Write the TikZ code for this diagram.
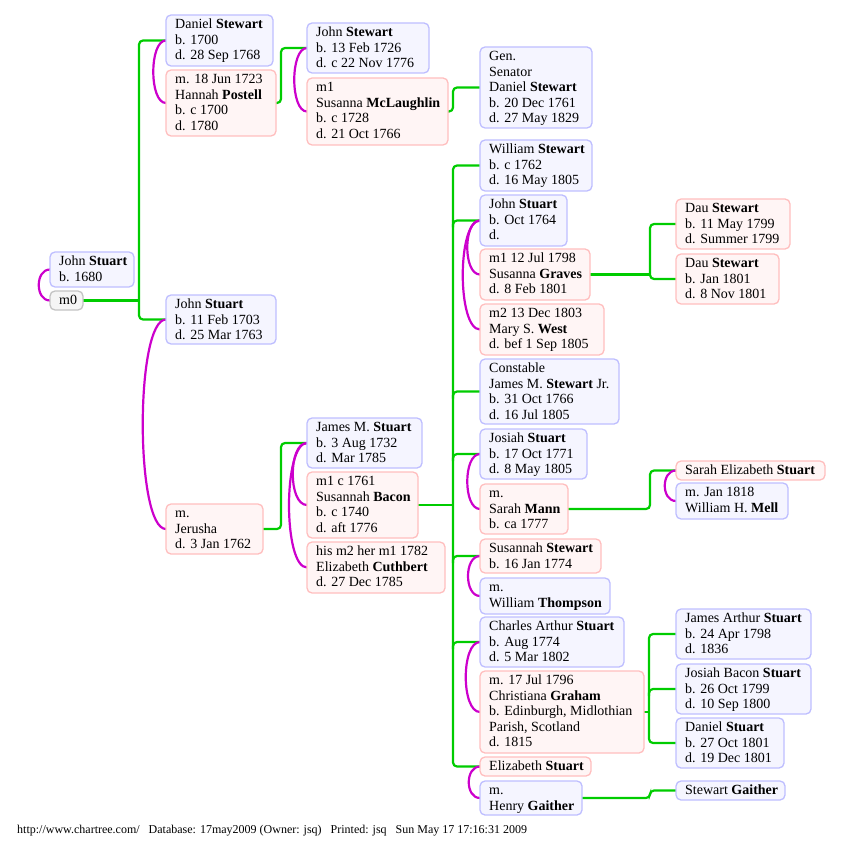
\documentclass[tikz,border=0pt]{standalone}
\usepackage{fontspec}
\setmainfont{Liberation Serif}
\usetikzlibrary{backgrounds}
\definecolor{grn}{RGB}{0,204,0}
\definecolor{mag}{RGB}{204,0,204}
\definecolor{bbord}{RGB}{190,190,255}
\definecolor{bfill}{RGB}{245,245,255}
\definecolor{pbord}{RGB}{255,190,190}
\definecolor{pfill}{RGB}{255,245,245}
\definecolor{gbord}{RGB}{195,195,195}
\definecolor{gfill}{RGB}{245,245,245}
\newcommand\pbx[7]{%
 \pgfmathsetmacro\pbxw{#5-#3}%
 \pgfmathsetmacro\pbxh{#6-#4}%
 \node[#1, anchor=north west, minimum width=\pbxw pt, minimum height=\pbxh pt] (#2) at (#3,#4) {};
 \node[txt, anchor=north west] (#2t) at (#3+9,#4+3.5) {\rule{0pt}{10pt}#7};%
}
\begin{document}
\begin{tikzpicture}[x=1pt,y=-1pt,
  bx/.style={draw=bbord, fill=bfill, line width=1.3pt, rounded corners=5pt, inner sep=0pt, outer sep=0pt},
  px/.style={bx, draw=pbord, fill=pfill},
  gx/.style={bx, draw=gbord, fill=gfill},
  txt/.style={align=left, inner sep=0pt, font=\fontsize{14}{15.5}\selectfont},
  gl/.style={draw=grn, line width=2.2pt, rounded corners=4pt},
  ml/.style={draw=mag, line width=2.2pt}]
\useasboundingbox (0,0) rectangle (843,858);

\pbx{bx}{js1680}{50}{252}{134}{287}{John \textbf{Stuart}\\b. 1680}
\pbx{gx}{m0}{50}{291}{83}{310}{m0}
\pbx{bx}{dstew}{166}{15}{273}{66}{Daniel \textbf{Stewart}\\b. 1700\\d. 28 Sep 1768}
\pbx{px}{hannah}{166}{70}{276}{136}{m. 18 Jun 1723\\Hannah \textbf{Postell}\\b. c 1700\\d. 1780}
\pbx{bx}{js1703}{166}{295}{276}{344}{John \textbf{Stuart}\\b. 11 Feb 1703\\d. 25 Mar 1763}
\pbx{px}{jerusha}{166}{504}{263}{554}{m.\\Jerusha\\d. 3 Jan 1762}
\pbx{bx}{jstew}{307}{23}{429}{73}{John \textbf{Stewart}\\b. 13 Feb 1726\\d. c 22 Nov 1776}
\pbx{px}{susmcl}{307}{78}{448}{145}{m1\\Susanna \textbf{McLaughlin}\\b. c 1728\\d. 21 Oct 1766}
\pbx{bx}{jamesm}{307}{418}{422}{468}{James M. \textbf{Stuart}\\b. 3 Aug 1732\\d. Mar 1785}
\pbx{px}{bacon}{307}{472}{418}{538}{m1 c 1761\\Susannah \textbf{Bacon}\\b. c 1740\\d. aft 1776}
\pbx{px}{cuthbert}{307}{542}{445}{593}{his m2 her m1 1782\\Elizabeth \textbf{Cuthbert}\\d. 27 Dec 1785}
\pbx{bx}{gen}{480}{47}{592}{128}{Gen.\\Senator\\Daniel \textbf{Stewart}\\b. 20 Dec 1761\\d. 27 May 1829}
\pbx{bx}{william}{480}{140}{592}{191}{William \textbf{Stewart}\\b. c 1762\\d. 16 May 1805}
\pbx{bx}{js1764}{480}{195}{567}{246}{John \textbf{Stuart}\\b. Oct 1764\\d.}
\pbx{px}{graves}{480}{249}{590}{300}{m1 12 Jul 1798\\Susanna \textbf{Graves}\\d. 8 Feb 1801}
\pbx{px}{west}{480}{304}{604}{355}{m2 13 Dec 1803\\Mary S. \textbf{West}\\d. bef 1 Sep 1805}
\pbx{bx}{constable}{480}{359}{619}{424}{Constable\\James M. \textbf{Stewart} Jr.\\b. 31 Oct 1766\\d. 16 Jul 1805}
\pbx{bx}{josiah}{480}{429}{587}{479}{Josiah \textbf{Stuart}\\b. 17 Oct 1771\\d. 8 May 1805}
\pbx{px}{mann}{480}{484}{568}{534}{m.\\Sarah \textbf{Mann}\\b. ca 1777}
\pbx{px}{susannah}{480}{539}{601}{573}{Susannah \textbf{Stewart}\\b. 16 Jan 1774}
\pbx{bx}{thompson}{480}{578}{610}{614}{m.\\William \textbf{Thompson}}
\pbx{bx}{charles}{480}{617}{624}{667}{Charles Arthur \textbf{Stuart}\\b. Aug 1774\\d. 5 Mar 1802}
\pbx{px}{graham}{480}{671}{644}{753}{m. 17 Jul 1796\\Christiana \textbf{Graham}\\b. Edinburgh, Midlothian\\Parish, Scotland\\d. 1815}
\pbx{px}{elizabeth}{480}{757}{591}{776}{Elizabeth \textbf{Stuart}}
\pbx{bx}{hgaither}{480}{781}{582}{815}{m.\\Henry \textbf{Gaither}}
\pbx{px}{dau1}{676}{199}{790}{249}{Dau \textbf{Stewart}\\b. 11 May 1799\\d. Summer 1799}
\pbx{px}{dau2}{676}{254}{779}{304}{Dau \textbf{Stewart}\\b. Jan 1801\\d. 8 Nov 1801}
\pbx{px}{sarahE}{676}{461}{825}{480}{Sarah Elizabeth \textbf{Stuart}}
\pbx{bx}{mell}{676}{483}{788}{519}{m. Jan 1818\\William H. \textbf{Mell}}
\pbx{bx}{jarthur}{676}{609}{811}{659}{James Arthur \textbf{Stuart}\\b. 24 Apr 1798\\d. 1836}
\pbx{bx}{jbacon}{676}{664}{811}{714}{Josiah Bacon \textbf{Stuart}\\b. 26 Oct 1799\\d. 10 Sep 1800}
\pbx{bx}{dstuart}{676}{718}{784}{768}{Daniel \textbf{Stuart}\\b. 27 Oct 1801\\d. 19 Dec 1801}
\pbx{bx}{sgaither}{676}{781}{785}{800}{Stewart \textbf{Gaither}}

\node[anchor=base west, inner sep=0pt, font=\fontsize{12}{13}\selectfont] (foot) at (17,833)
  {http://www.chartree.com/\ \ \ Database: 17may2009 (Owner: jsq)\ \ \ Printed: jsq\ \ \ Sun May 17 17:16:31 2009};

\coordinate (j0) at (139,0);
\coordinate (j1) at (281,0);
\coordinate (j2) at (453,0);
\coordinate (j5) at (650,0);
\coordinate (j6) at (649,0);

\begin{scope}[on background layer]
% green family lines
\draw[gl] (m0.east) -- (m0.east -| j0);
\draw[gl] (dstew.west) -- (dstew.west -| j0) -- (js1703.west -| j0) -- (js1703.west);
\draw[gl] (hannah.east) -- (hannah.east -| j1) -- (jstew.west -| j1) -- (jstew.west);
\draw[gl] (susmcl.east) -- (susmcl.east -| j2) -- (gen.west -| j2) -- (gen.west);
\draw[gl] (jerusha.east) -- (jerusha.east -| j1) -- (jamesm.west -| j1) -- (jamesm.west);
\draw[gl] (bacon.east) -- (bacon.east -| j2);
\draw[gl] (william.west) -- (william.west -| j2) -- (elizabeth.west -| j2) -- (elizabeth.west);
\foreach \c in {js1764,constable,josiah,susannah,charles}
  \draw[gl] (\c.west -| j2) ++(0,7) |- (\c.west);
\draw[gl] (graves.east) -- (graves.east -| j5);
\draw[gl] (dau1.west) -- (dau1.west -| j5) -- (dau2.west -| j5) -- (dau2.west);
\draw[gl] (mann.east) -- (mann.east -| j5) -- (sarahE.west -| j5) -- (sarahE.west);
\draw[gl] (graham.east) -- (graham.east -| j6);
\draw[gl] (jarthur.west) -- (jarthur.west -| j6) -- (dstuart.west -| j6) -- (dstuart.west);
\draw[gl] (jbacon.west -| j6) ++(0,7) |- (jbacon.west);
\draw[gl] (hgaither.east) -- (hgaither.east -| j5) -- (sgaither.west -| j5) -- (sgaither.west);
% magenta marriage arcs
\draw[ml] (js1680.west) .. controls +(-15,0) and +(-15,0) .. (m0.west);
\draw[ml] (dstew.west) .. controls +(-17,0) and +(-17,0) .. (hannah.west);
\draw[ml] (js1703.west) .. controls +(-31,0) and +(-31,0) .. (jerusha.west);
\draw[ml] (jstew.west) .. controls +(-17,0) and +(-17,0) .. (susmcl.west);
\draw[ml] (jamesm.west) .. controls +(-19,0) and +(-19,0) .. (bacon.west);
\draw[ml] (jamesm.west) .. controls +(-24,0) and +(-24,0) .. (cuthbert.west);
\draw[ml] (js1764.west) .. controls +(-17,0) and +(-17,0) .. (graves.west);
\draw[ml] (js1764.west) .. controls +(-23,0) and +(-23,0) .. (west.west);
\draw[ml] (josiah.west) .. controls +(-17,0) and +(-17,0) .. (mann.west);
\draw[ml] (susannah.west) .. controls +(-16,0) and +(-16,0) .. (thompson.west);
\draw[ml] (charles.west) .. controls +(-19,0) and +(-19,0) .. (graham.west);
\draw[ml] (elizabeth.west) .. controls +(-15,0) and +(-15,0) .. (hgaither.west);
\draw[ml] (sarahE.west) .. controls +(-15,0) and +(-15,0) .. (mell.west);
\end{scope}
\end{tikzpicture}
\end{document}
